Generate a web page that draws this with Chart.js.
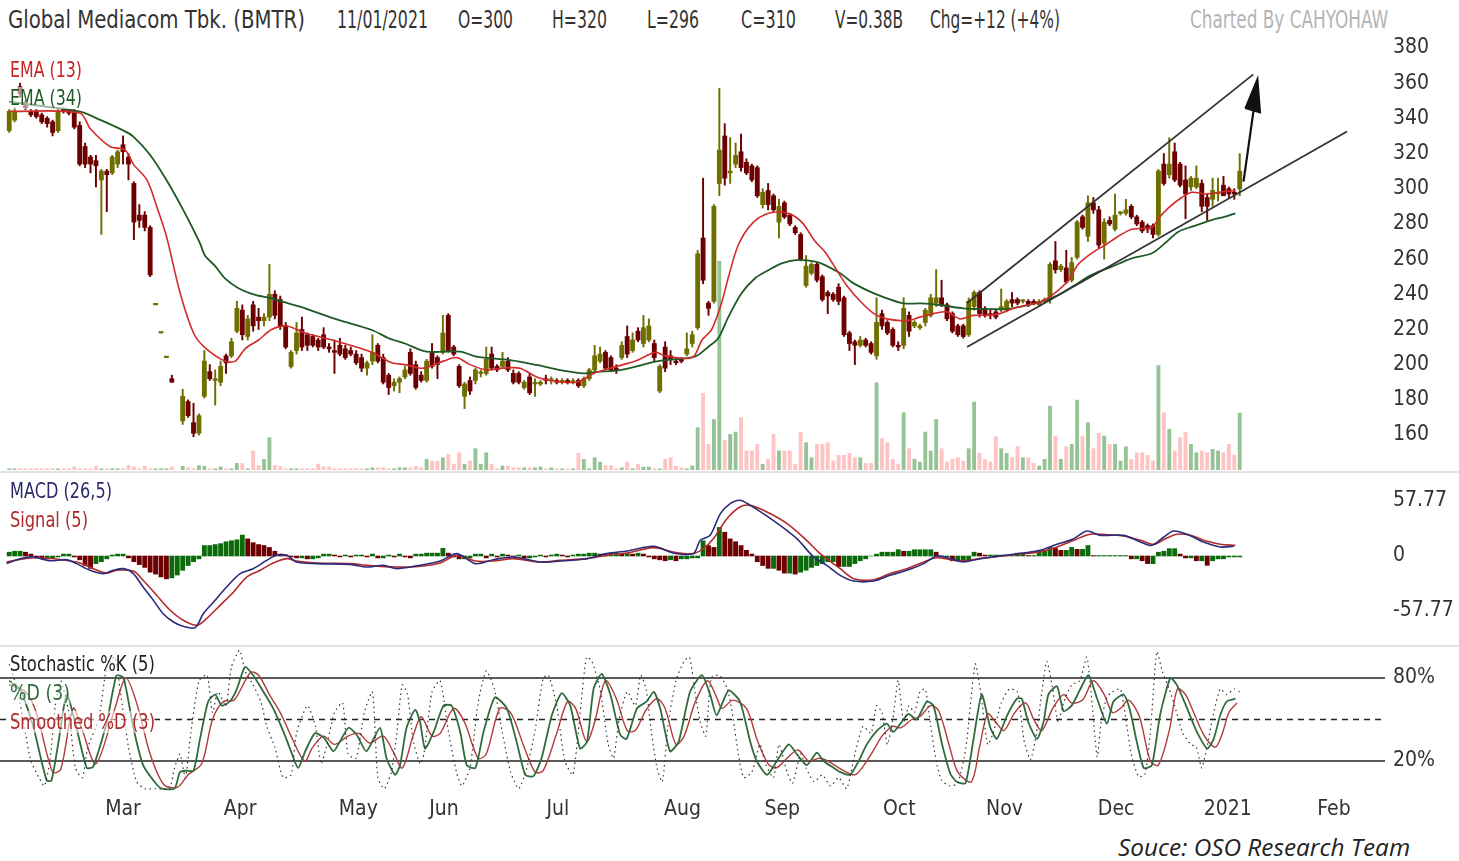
<!DOCTYPE html>
<html><head><meta charset="utf-8">
<script src="https://cdn.jsdelivr.net/npm/chart.js@4.4.1/dist/chart.umd.min.js"></script>
<style>
body{margin:0;background:#fff;width:1459px;height:861px;overflow:hidden;position:relative;}
canvas{position:absolute;left:0;}
.t{position:absolute;white-space:nowrap;line-height:1;font-family:'Liberation Sans Narrow','DejaVu Sans Condensed','Roboto Condensed',sans-serif;transform-origin:0 50%;}
.h{font-size:24px;color:#333;}
.lg{font-size:22px;background:rgba(255,255,255,0.55);}
.sep{position:absolute;left:0;width:1459px;height:2px;background:#e3e3e3;}
</style></head><body>
<div class="t h" style="left:8px;top:8px" data-w="297">Global Mediacom Tbk. (BMTR)</div>
<div class="t h" style="left:337px;top:8px" data-w="91">11/01/2021</div>
<div class="t h" style="left:458px;top:8px" data-w="55">O=300</div>
<div class="t h" style="left:552px;top:8px" data-w="55">H=320</div>
<div class="t h" style="left:647px;top:8px" data-w="52">L=296</div>
<div class="t h" style="left:741px;top:8px" data-w="55">C=310</div>
<div class="t h" style="left:835px;top:8px" data-w="68">V=0.38B</div>
<div class="t h" style="left:930px;top:8px" data-w="130">Chg=+12 (+4%)</div>
<div class="t h" style="left:1190px;top:8px;color:#b4b4b4" data-w="198">Charted By CAHYOHAW</div>
<div class="sep" style="top:471px"></div>
<div class="sep" style="top:645px"></div>
<canvas id="cPrice" width="1459" height="442" style="top:28px"></canvas>
<canvas id="cMacd" width="1459" height="170" style="top:475px"></canvas>
<canvas id="cStoch" width="1459" height="185" style="top:645px"></canvas>
<div class="t lg" style="left:10px;top:59px;color:#cc2222" data-w="72">EMA (13)</div>
<div class="t lg" style="left:10px;top:87px;color:#1f5a26" data-w="72">EMA (34)</div>
<div class="t lg" style="left:10px;top:480px;color:#2b2b6b" data-w="102">MACD (26,5)</div>
<div class="t lg" style="left:10px;top:509px;color:#b02a2a" data-w="78">Signal (5)</div>
<div class="t lg" style="left:10px;top:653px;color:#222" data-w="145">Stochastic %K (5)</div>
<div class="t lg" style="left:10px;top:682px;color:#2f6b3c" data-w="60">%D (3)</div>
<div class="t lg" style="left:10px;top:711px;color:#b02a2a" data-w="145">Smoothed %D (3)</div>
<div class="t" style="left:1118px;top:836px;font-family:'Open Sans',sans-serif;font-style:italic;font-size:23px;color:#222" data-w="292">Souce: OSO Research Team</div>
<script>
// ---------------- DATA ----------------
const monthNames = ['Mar','Apr','May','Jun','Jul','Aug','Sep','Oct','Nov','Dec','2021','Feb'];
const monthIdx   = [21,42.6,64.4,80.2,101.2,124.2,142.6,164.2,183.6,204.2,224.8,244.4];
const priceTicks = [160,180,200,220,240,260,280,300,320,340,360,380];
const macdTicks  = [-57.77,0,57.77];
const stochTicks = [20,80];
const stochLevels = [80,50,20];

const opens = [333,339,358,349,344,344,342,340,338,333,345,345,344,336,324,318,316,305,310,309,
314,325,318,303,285,285,278,234,218,204,192,null,168,179,167,161,182,196,191,190,
205,205,219,231,216,234,227,225,227,240,237,222,199,208,220,217,216,214,217,210,
208,211,209,208,206,204,198,202,211,204,194,188,190,193,207,200,194,191,207,204,
207,228,210,199,182,191,191,195,195,206,199,199,202,195,195,187,193,189,189,192,
191,191,190,191,190,191,188,192,197,202,207,204,198,204,216,208,219,212,214,212,
185,210,205,202,203,206,212,221,272,235,236,303,330,309,314,321,315,313,312,291,
299,296,281,292,285,278,274,245,252,257,250,241,240,244,238,218,213,211,214,212,
205,229,224,220,211,211,228,222,221,224,228,235,238,234,229,222,222,217,233,241,
232,229,230,232,231,237,237,236,236,236,234,236,237,259,254,255,248,261,284,273,
292,288,269,282,277,286,286,290,284,281,279,279,274,314,308,321,314,305,301,301,
303,295,294,297,302,300,298,300];
const highs = [345,346,360,350,345,345,343,341,339,345,346,345,345,338,326,319,319,311,311,319,
322,330,320,304,291,287,279,234,218,204,194,null,186,180,178,172,208,200,197,202,
206,215,236,234,228,236,232,229,257,242,239,224,208,224,227,218,217,215,221,212,
214,215,211,210,208,206,202,217,212,206,195,192,193,199,209,202,196,203,212,205,
228,229,211,200,190,193,198,197,210,210,200,207,204,197,196,191,195,192,191,194,
193,192,192,192,192,192,193,198,211,210,208,205,200,213,222,218,221,228,226,214,
200,213,208,203,204,218,219,265,306,236,291,357,337,329,326,331,317,314,313,300,
303,297,294,293,286,279,275,262,258,258,251,242,241,246,239,219,214,216,215,213,
238,231,225,221,213,238,230,225,223,232,240,254,248,235,230,223,223,238,242,242,
233,231,231,243,237,241,238,237,237,237,237,238,258,270,257,265,261,282,285,296,
295,290,283,284,297,287,294,291,285,282,280,280,311,320,329,326,315,313,307,313,
305,297,306,306,307,301,300,320];
const lows = [332,338,352,345,341,340,337,335,330,332,343,342,334,313,312,309,301,274,287,308,
312,314,305,271,278,276,250,234,218,204,190,null,166,170,159,160,181,191,177,188,
195,204,218,214,214,219,220,222,225,226,220,209,198,206,208,208,210,208,209,207,
195,205,203,205,200,196,194,200,201,189,183,185,184,192,194,186,190,190,198,192,
206,207,205,187,175,183,189,193,194,197,196,198,196,189,189,186,183,182,188,189,
189,189,189,189,189,187,187,191,196,201,197,196,195,203,204,207,213,210,213,202,
184,196,200,200,201,205,210,220,246,228,235,296,302,303,312,310,308,304,295,289,
288,287,272,283,279,274,259,244,251,247,236,229,236,234,216,208,200,210,210,206,
203,220,217,210,208,209,216,221,220,222,227,233,233,225,218,216,215,216,231,227,
227,226,226,230,230,233,234,235,233,234,233,235,235,252,253,246,247,260,277,270,
286,266,260,279,276,285,285,283,279,275,275,272,273,302,306,304,301,283,299,300,
287,282,290,293,296,295,294,296];
const closes = [344,344,354,346,342,341,338,337,332,344,344,343,335,314,314,314,313,310,308,318,
321,321,314,281,282,278,251,234,218,204,190,null,182,171,161,171,202,192,192,199,
201,213,232,217,226,222,225,227,240,228,222,210,207,218,210,211,211,210,210,209,
207,206,204,206,201,198,201,207,202,190,187,190,192,197,195,187,191,202,199,200,
218,208,206,188,189,185,197,195,203,198,197,202,197,190,190,190,184,190,190,191,
191,190,191,190,190,188,192,197,205,206,198,197,197,211,206,214,214,221,222,204,
199,198,203,201,202,209,217,263,248,232,290,322,306,310,319,312,309,305,296,298,
291,288,290,284,280,275,260,256,257,248,237,239,237,236,217,212,211,214,211,207,
224,222,218,211,210,232,219,224,222,231,238,238,234,226,219,217,216,236,241,229,
228,228,227,233,236,235,235,236,234,235,236,237,257,254,256,247,258,281,278,292,
288,268,281,280,285,286,288,284,280,276,277,274,310,303,314,305,302,297,306,306,
290,290,299,297,296,297,297,310];
// volume, millions of shares
const volumes = [8,8,8,8,8,8,8,8,8,8,8,8,20,8,8,8,25,8,8,8,
8,8,30,20,8,25,8,8,8,8,20,null,25,15,8,30,25,8,8,20,
8,8,44,44,8,127,30,71,215,30,25,8,8,8,8,8,8,40,20,20,
8,8,8,8,8,8,8,15,15,15,8,8,15,15,15,25,15,71,60,60,
82,104,40,115,38,60,142,38,115,38,8,27,27,15,15,15,15,15,20,8,
15,8,8,8,8,111,71,8,82,53,30,30,8,15,53,8,38,20,20,8,
8,71,82,27,15,8,27,282,511,171,337,1392,198,238,253,349,127,127,171,38,
71,238,127,127,127,38,253,182,82,171,171,182,60,98,98,111,82,82,44,44,
582,209,182,71,40,382,142,71,53,253,127,337,142,53,71,82,60,142,453,111,
71,53,222,142,111,82,155,82,82,44,27,71,426,226,71,155,171,466,226,315,
142,244,226,171,171,60,155,71,115,115,98,60,697,382,271,127,215,253,171,115,
127,115,138,127,115,171,100,380];
const macdHist = [4,5,5,4,2,-2,-3,-3,-2,-1,2,2,-1,-4,-10,-13,-8,-6,-3,1,
2,2,-2,-6,-9,-12,-17,-19,-22,-24,-23,-20,-15,-10,-6,-3,11,11,12,13,
15,16,17,22,18,14,12,11,9,5,2,1,-1,-2,-2,-3,-3,-2,2,2,
1,-1,1,-1,1,1,-1,2,-2,-2,1,-1,2,-1,-2,2,2,3,3,3,
8,3,-1,-3,-3,-2,2,2,-2,2,-1,2,1,-1,1,-2,-2,-1,1,-1,
1,2,1,-1,1,2,2,3,3,2,2,3,3,2,3,2,3,2,-1,-3,
-4,-5,-4,-5,-3,-3,-2,-2,16,11,9,30,25,18,15,11,6,2,-6,-10,
-13,-13,-15,-18,-18,-19,-17,-15,-12,-10,-8,-6,-6,-11,-11,-11,-8,-5,-3,0,
2,4,4,4,6.6,5,5,6.6,6.6,6.6,6.6,4,-1,-1,-5,-5,-5,-5,4,3,
1,1,1,1,1,1,3,3,0.5,0.5,6,6,9,8,6,6,9,7,7,11,
0.5,0.5,0.5,0.5,0.5,0.5,0.5,-3,-3,-5,-8,-8,4,5,7.7,7.7,2,-2,-2,-5,
-5,-9.8,-5,-3,-3,-1,-1,-1];

const ema13Idx = [0,13,15,18.6,21.4,22.9,25.4,27.2,29,31.5,34,36,39.8,41.7,43.5,46,48.4,51.2,54.6,60.7,
66.9,70.6,73,76.4,80.1,82.6,85,88.1,91.2,94.2,97.3,99.8,104.7,107.8,110.9,115.5,119.2,121,126,127.8,
129.6,131.5,132.7,134.5,137,140.1,143.7,146.2,148.7,150.5,152,154.5,157,159.5,161.9,165.6,168,170.5,173,175.4,
177.9,180.4,182.8,185.3,188,190.5,193,195.4,197.2,200,202.2,204.6,207.1,210.8,212,213.8,216.3,218.2,220.6,223.1,226.2];
const ema13Val = [344,343,334,324,322,314,305,290,273,241,218,210,202,202,209,214,220,222,218,213,
207,201,200,198,202,204,200,197,198,198,193,191,190,195,198,202,207,205,204,214,
220,236,250,268,280,286,286,281,270,264,257,245,236,229,226,225,227,229,230,226,
228,228,229,232,234,236,241,248,257,264,268,273,277,278,283,289,295,298,297,298,299];
const ema34Idx = [0,4.5,13.1,16.8,21.1,22.9,26,29,32.1,35.2,36.1,38,39.8,42.3,45.4,48.4,51.5,54.6,60.7,66.9,
70,73,77,83.2,86.2,92.4,97.3,101.6,106,108.4,112.7,119.2,121,126.5,129,130.8,132.7,135.1,137.6,140.1,
142.5,145.6,148.7,150.5,153.3,155.8,158.8,161.9,165,168.1,171.7,176,180.4,184,186.5,190.5,193.5,196.6,199.7,203.4,
207.1,210.8,213.2,215.7,218.2,221.8,224.3,226.2];
const ema34Val = [349.5,347.6,343.8,339.1,333,329.6,319.2,305,288,269,262,256,249,243.4,239.6,237.7,234.8,232,225.4,219.7,
215,212,207.4,207.4,204.5,202.6,199.8,196.9,195,195.9,196.9,201.7,202.6,204.5,210.2,215,227.3,240.6,249.1,253.8,
257.6,259.5,258.5,256.6,251.9,246.2,241.5,237.7,234.8,234.8,233.9,232,231.6,231.6,232.9,235.8,239.6,245.3,251,255.7,
260.4,263.3,269,275.6,278.4,282.2,284.1,286];

const macdIdx = [-0.5,2,4.5,7.5,10.6,12.4,14.9,17.4,19.2,21.1,22.9,24.7,26.6,28.4,30.3,32.1,34.3,35.8,37.7,40.1,
42.6,45,47.5,49.3,51.2,53,56.7,62.9,66,69,71.5,75.2,79.5,82.6,86,89.3,93,98,101.6,106.6,
110.2,114,118.9,122.5,126.2,127.5,129.3,131.2,133,134.8,136.7,139.1,142.2,145.3,148.4,150.8,153.3,155.8,159.5,162.5,
165.6,168.7,171.1,173.6,176,179.1,182.8,187.1,190.2,193.3,196.4,198.8,201.3,205.6,208.7,210.8,213,214.8,217.3,220.3,
223.4,225.9];
const macdVal = [-8,-2.8,-1,-5,-3.9,-8,-15,-18.5,-15,-13.3,-18.5,-32.6,-46.6,-60.6,-69.3,-73.9,-75.3,-60.6,-48.3,-32.6,
-18.5,-13.3,-4.6,0.7,0.7,-6.3,-8,-8.8,-11.6,-9.8,-13.3,-10.3,-5.3,2.5,-8,-3.9,-1,-6.3,-5.3,-2.8,
2.5,5.3,10.2,3.2,2.5,16.5,21.7,44.5,55,58.5,53.2,44.5,32.2,18.2,-1,-9.8,-20.3,-26.3,-26.3,-20.3,
-15,-8,0,-2.8,-6.3,-2.8,0,3.2,6,12.3,18.2,26.3,21.7,21.7,14.7,11.2,20,26.3,22.8,14.7,
9.5,10.2];
const signalIdx = [-0.5,4.5,12.4,15.5,18,19.8,22.9,24.7,27.2,29.7,32.1,34.6,36.4,38.9,41.4,43.8,46.3,48.7,51.2,53,
56.7,62.9,66,71.5,75.5,79.5,82.6,86,89.3,93,98,101.6,106.6,110.2,114,118.9,122.5,126.2,128,129.9,
132.4,134.8,136.7,139.8,143.5,147.1,149.6,153.3,155.8,159.5,162.5,165.6,168.7,171.1,173.6,176,179.1,182.8,187.1,190.2,
193.3,196.4,199.4,202.5,205.6,208.7,211.1,213.3,215.4,217.9,221,223.4,226.2];
const signalVal = [-6.3,-1.8,-6.3,-13.3,-17.9,-15,-15.8,-25.5,-41.3,-57,-67.5,-72.8,-65.8,-51.8,-37.8,-22.1,-15,-7.4,-2.8,-5.3,
-7.4,-8,-9.8,-11.6,-11,-7.4,0.7,-5.3,-5.3,-2.8,-6.3,-4.6,-2.8,0.7,3.2,8.8,4.2,2.5,7.7,18.2,
39.2,51.5,53.2,46.2,34,16.5,2.5,-13.3,-23.8,-24.9,-18.5,-13.3,-6.3,-1.8,-3.9,-5.3,-2.8,-0.3,2.5,4.2,
9.5,16.5,22.8,22.4,21,16.5,12.3,18.2,22.8,21.7,15.4,12.3,11.2];

const stochDIdx = [0,2,3.2,4.5,6.9,7.8,9.1,10.6,12.4,14.3,15.5,18,19.8,21.1,22.9,24.7,27.2,28.2,30.5,31.5,
32.7,34,35.2,36.7,38,39.2,40.7,42,43.5,45,46.9,48.7,50.6,51.8,53.3,54.6,56.4,58,59.8,61,
62.6,64.1,65.9,68.4,69.6,71.2,72.1,73.3,74.9,75.8,76.7,78.3,80.1,81.6,83.2,84.4,86,87.5,89.6,91.8,
93.6,95.2,96.7,98.2,100.1,101.9,103.5,105.3,106.6,107.8,109.3,110.9,112.7,113.9,115.8,117.6,118.9,120.1,121.9,123.5,
125.6,127.8,129.3,130.5,132.7,134.8,136.7,137.9,139.8,141.6,143.8,145.3,147.1,149,150.2,152.1,153.3,155.1,156.7,158.2,
160.1,161.9,163.1,164.4,165.9,167.4,169.3,170.5,172.1,173.6,174.8,176.4,177.9,179.4,181,182.2,184.1,185.9,186.8,188,
189.6,190.8,191.7,193.3,194.5,196,197.6,199.1,200.7,202.5,203.7,205.6,206.8,208,209.3,210.8,212.3,214.2,215.4,217.3,
219.1,221,222.2,223.4,224.6,226.2];
const stochDVal = [78,72,60,44,6,6,34,68,44,15,16,48,82,80,44,17,3,0,0,12,
13,13,36,63,68,60,63,72,88,82,70,58,41,29,15,27,40,37,27,34,
44,39,27,44,22,10,17,44,57,48,29,41,60,60,41,17,15,41,66,58,
34,10,9,22,53,69,60,29,34,72,83,68,39,36,58,63,70,58,27,34,
70,82,68,53,71,63,34,20,10,20,32,25,17,26,20,15,12,10,20,32,
42,47,41,47,54,50,63,60,32,11,5,4,36,68,44,36,53,65,65,48,
36,48,68,74,56,60,72,82,65,47,63,68,56,34,15,17,53,80,75,58,
41,29,36,53,63,65];
const stochSIdx = [0,3,5,8,9.5,11.8,13.5,16,19.5,21.5,23.5,26,28.5,31,33,35.5,37.5,39.5,41.5,44.5,
46,48,50,52,54.5,56,58,60,62.5,64.5,66.5,69,70.8,72.5,74.5,76,78,79.5,82,84,
86.5,88,90.5,92.5,95,97,98.5,101,103,104.5,106.5,108,110,112,114,115.5,117.5,119.5,121,123,
124.5,126.5,128.8,130.5,131.5,133.5,136,138,140,141.5,143.5,145.5,147.5,149.5,151,153.5,156,157.5,159.5,161,
163,164.5,166.5,168,170,171.5,173.5,175,177.5,179,180.5,182,183.5,185.5,187.5,189,190.5,192.5,194.5,196,
198,200,202,203.5,205,206.5,208.5,210.5,212,214,215.5,217,218.5,220.5,222.5,223.8,225,226.5];
const stochSVal = [75,70,55,12,14,58,42,18,58,80,62,25,3,1,10,18,50,63,64,84,
82,68,55,38,20,30,38,32,38,40,33,38,27,15,38,52,38,40,58,48,
22,25,58,55,30,12,13,40,63,58,34,48,78,65,42,42,57,65,58,32,
38,62,78,66,58,64,58,35,18,15,22,28,20,22,20,14,10,16,28,38,
45,44,50,52,60,56,30,12,5,30,54,48,42,55,62,50,42,58,68,62,
64,78,68,55,58,64,52,20,17,42,72,68,55,38,30,40,55,62];
const stochKIdx = [0,1.5,3,4,5.5,6.5,7.5,8.5,9.5,11,12.2,13.5,14.5,16.5,18,19.5,20.5,22,23.5,25,
27,29.5,30.5,31.5,32.5,33.5,35,36.5,37.5,38.5,40,41,42.5,43.5,45,46.5,47.5,49,50.5,52,
53,55,56.5,57.5,58.5,60,61.5,62.5,64,65.5,67,68,69.2,70.5,71.5,72.5,73.5,74.5,75.8,76.5,
78,79.5,81,82.5,83.5,85,86.5,88,89.5,91,92.5,94,95.5,97,98.5,99.5,101,102.5,104,105.5,
106.5,107.5,109,110.5,111.5,112.5,114,115.5,116.5,117.5,118.5,119.5,120.5,121.5,123,124.5,125.5,126.5,127.5,128.5,
129.5,131,132.5,133.5,134.5,135.5,137,138.5,139.5,141,142,143.5,144.5,146,147,148.5,150,151.5,153,154.5,
156,157.5,159,160,161,162,163,164,165,166,167,168,169,170,171,172,173.5,175,176.5,178.2,
179.2,180.5,181.5,183,184.5,186,187.2,188.4,189.5,190.5,191.4,192.5,193.5,194.5,196,197.5,198.8,199.8,200.7,201.5,
202.5,203.5,205,206,207,208.3,209.5,210.5,211.7,212.7,214,215,216.5,218,219,220,221.2,222.2,223.4,224.6,
226,227];
const stochKVal = [90,72,40,20,8,2,20,60,78,55,15,8,30,50,88,95,70,30,5,0,
0,0,15,25,8,40,78,82,55,70,60,88,100,85,75,62,45,30,8,10,
40,60,45,18,30,55,62,25,22,55,70,8,0,12,40,75,68,35,18,25,
70,78,42,12,2,15,62,85,72,40,12,0,15,42,80,82,60,20,10,62,
95,92,72,32,22,50,70,60,82,72,40,15,5,45,78,92,95,70,48,38,
80,82,72,52,25,8,12,32,18,8,32,12,4,25,15,5,10,2,8,0,
25,45,40,60,55,32,50,78,48,60,55,70,72,45,20,6,2,4,30,90,
70,32,40,62,72,70,35,21,40,70,92,72,48,62,75,78,95,60,23,50,
66,70,72,50,25,9,10,40,99,85,72,60,40,32,30,15,35,55,72,68,
72,70];

// trend channel drawn by the analyst (candle index, price)
const channelUpper = [[176.7,235],[229.5,365]];
const channelLower = [[176.7,210],[246.8,332.5]];
const arrowShaft = [[227.7,304],[230.0,354.4]];
const arrowHead = [[228.0,345.7],[230.3,362.8],[230.8,343.2],[228.0,345.7]];

// ---------------- STYLE / SETUP ----------------
const FONT = "'Liberation Sans Narrow','DejaVu Sans Condensed','Roboto Condensed',sans-serif";
Chart.defaults.font.family = FONT;
Chart.defaults.font.size = 21;
Chart.defaults.color = '#333';
Chart.defaults.animation = false;

const OLIVE='#6f6f00', MAROON='#6d0000';
const X_MIN=-1.7, X_MAX=253.8, AXIS_W=74;
const isUp = i => closes[i] >= opens[i];
const pts = (xs, ys) => xs.map((x,k)=>({x, y:ys[k]}));
const pairs = a => a.map(p=>({x:p[0], y:p[1]}));

function xAxis(show){
  return {type:'linear', min:X_MIN, max:X_MAX, display:show, offset:false,
    grid:{display:false, drawTicks:false}, border:{display:false},
    afterBuildTicks:s=>{s.ticks = monthIdx.map(v=>({value:v}));},
    ticks:{autoSkip:false, maxRotation:0, padding:2, callback:(v,i)=>monthNames[i]},
    afterFit:s=>{s.height = show ? 35 : 0; s.paddingLeft=0; s.paddingRight=0;}};
}
function yAxis(min,max,tv,fmt){
  return {position:'right', min, max, grid:{display:false, drawTicks:false}, border:{display:false},
    afterBuildTicks:s=>{s.ticks = tv.map(v=>({value:v}));},
    ticks:{autoSkip:false, padding:8, callback:v=>fmt(v)},
    afterFit:s=>{s.width=AXIS_W; s.paddingTop=0; s.paddingBottom=0;}};
}
const baseOpts = {responsive:false, devicePixelRatio:1, animation:false, layout:{padding:0},
  plugins:{legend:{display:false}, tooltip:{enabled:false}}};
const lineDs = (data, color, w, extra) => Object.assign({type:'line', data, borderColor:color, borderWidth:w,
  pointRadius:0, fill:false, tension:0.3}, extra||{});

// ---------------- PRICE + VOLUME ----------------
const idxAll = closes.map((_,i)=>i).filter(i=>opens[i]!==null);
new Chart(document.getElementById('cPrice'), {
  type:'bar',
  data:{datasets:[
    Object.assign(lineDs(pairs(arrowHead),'#111',1.5,{tension:0, fill:'shape', backgroundColor:'#111'}),{order:0}),
    Object.assign(lineDs(pairs(arrowShaft),'#111',2.2,{tension:0}),{order:0}),
    Object.assign(lineDs(pairs(channelUpper),'#333',1.8,{tension:0}),{order:0}),
    Object.assign(lineDs(pairs(channelLower),'#333',1.8,{tension:0}),{order:0}),
    Object.assign(lineDs(pts(ema13Idx,ema13Val),'#d42a2a',1.6),{order:1}),
    Object.assign(lineDs(pts(ema34Idx,ema34Val),'#1f5a26',1.8),{order:2}),
    {type:'bar', order:3, grouped:false, barThickness:4.2, minBarLength:1.5,
      data: idxAll.map(i=>({x:i, y:[opens[i], closes[i]]})),
      backgroundColor: c=> isUp(c.raw.x)?OLIVE:MAROON, borderWidth:0},
    {type:'bar', order:4, grouped:false, barThickness:1.3, minBarLength:0,
      data: idxAll.map(i=>({x:i, y:[lows[i], highs[i]]})),
      backgroundColor: c=> isUp(c.raw.x)?OLIVE:MAROON, borderWidth:0},
    {type:'bar', order:10, grouped:false, barThickness:3.2, yAxisID:'yv',
      data: idxAll.map(i=>({x:i, y:volumes[i]})),
      backgroundColor: c=> isUp(c.raw.x)?'rgba(120,178,120,0.78)':'rgba(255,170,170,0.7)', borderWidth:0}
  ]},
  options:Object.assign({}, baseOpts, {scales:{
    x:xAxis(false),
    y:yAxis(140.1,391.37,priceTicks,v=>String(v)),
    yv:{display:false, min:0, max:2947}
  }})
});

// ---------------- MACD ----------------
new Chart(document.getElementById('cMacd'), {
  type:'bar',
  data:{datasets:[
    Object.assign(lineDs(pts(macdIdx,macdVal),'#2b2b7b',1.6),{order:0}),
    Object.assign(lineDs(pts(signalIdx,signalVal),'#b52a2a',1.6),{order:1}),
    {type:'bar', order:2, grouped:false, barThickness:4.2,
      data: macdHist.map((v,i)=>({x:i, y:v})),
      backgroundColor: c=>{const i=c.raw.x; return (i===0 || macdHist[i]>=macdHist[i-1])?'#0b6b0b':'#6d0000';},
      borderWidth:0}
  ]},
  options:Object.assign({}, baseOpts, {scales:{
    x:xAxis(false),
    y:yAxis(-93.5,85.1,macdTicks,v=>String(v))
  }})
});

// ---------------- STOCHASTIC ----------------
const lvl = v => [{x:X_MIN,y:v},{x:X_MAX,y:v}];
new Chart(document.getElementById('cStoch'), {
  type:'line',
  data:{datasets:[
    lineDs(pts(stochKIdx,stochKVal),'#333',1.2,{borderDash:[1.5,3.5], tension:0.2}),
    lineDs(pts(stochDIdx,stochDVal),'#2f6b3c',1.8,{tension:0.2}),
    lineDs(pts(stochSIdx,stochSVal),'#b23a3a',1.4,{tension:0.3}),
    lineDs(lvl(stochLevels[0]),'#222',1.6,{tension:0}),
    lineDs(lvl(stochLevels[1]),'#222',1.6,{tension:0, borderDash:[6,5]}),
    lineDs(lvl(stochLevels[2]),'#222',1.6,{tension:0})
  ]},
  options:Object.assign({}, baseOpts, {scales:{
    x:xAxis(true),
    y:yAxis(-4.55,103.8,stochTicks,v=>v+'%')
  }})
});

// fit text widths to the reference layout
document.querySelectorAll('[data-w]').forEach(el=>{
  const w = el.getBoundingClientRect().width;
  const t = +el.dataset.w;
  if (w>0) el.style.transform = 'scaleX('+(t/w).toFixed(3)+')';
});
</script>
</body></html>
